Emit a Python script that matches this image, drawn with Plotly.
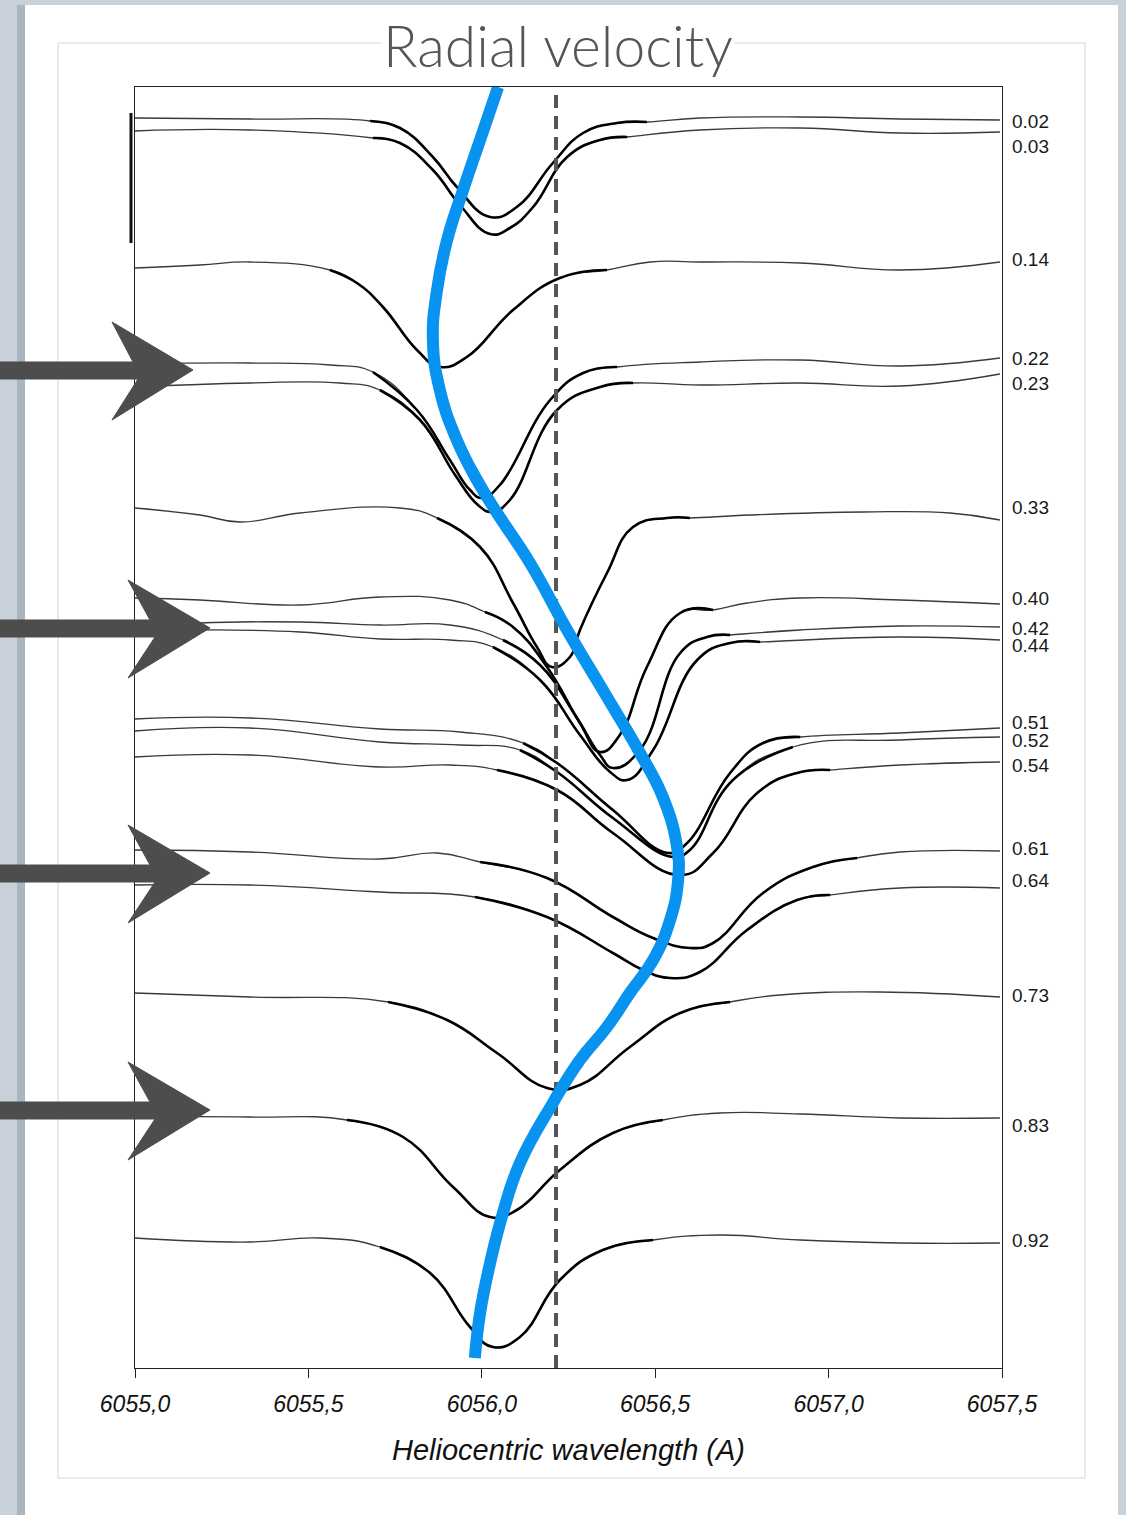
import plotly.graph_objects as go

# ---------------------------------------------------------------------------
# Fe I 6056 line profiles at successive pulsation phases (offset for clarity)
# wavelengths in Angstrom, levels are normalised flux plus a vertical offset
# ---------------------------------------------------------------------------
phases = ["0.02", "0.03", "0.14", "0.22", "0.23", "0.33", "0.40", "0.42", "0.44",
          "0.51", "0.52", "0.54", "0.61", "0.64", "0.73", "0.83", "0.92"]

wl_002 = [6055.000, 6055.332, 6055.678, 6055.764, 6055.859, 6055.928, 6056.024, 6056.101,
          6056.205, 6056.292, 6056.390, 6056.476, 6056.629, 6056.918, 6057.206, 6057.494]
fx_002 = [12.50, 12.49, 12.47, 12.40, 12.11, 11.81, 11.51, 11.61,
          12.05, 12.35, 12.45, 12.46, 12.50, 12.51, 12.49, 12.48]

wl_003 = [6055.000, 6055.332, 6055.686, 6055.764, 6055.859, 6055.937, 6056.024, 6056.081,
          6056.148, 6056.246, 6056.341, 6056.419, 6056.629, 6056.918, 6057.206, 6057.494]
fx_003 = [12.37, 12.38, 12.30, 12.25, 11.98, 11.63, 11.34, 11.40,
          11.61, 12.11, 12.28, 12.31, 12.38, 12.40, 12.35, 12.36]

wl_014 = [6055.000, 6055.187, 6055.332, 6055.562, 6055.640, 6055.715, 6055.813, 6055.879,
          6055.957, 6056.090, 6056.225, 6056.361, 6056.485, 6056.629, 6056.918, 6057.206, 6057.494]
fx_014 = [11.00, 11.03, 11.06, 10.98, 10.85, 10.61, 10.18, 10.01,
          10.11, 10.58, 10.90, 10.98, 11.06, 11.06, 11.05, 10.98, 11.06]

wl_022 = [6055.000, 6055.332, 6055.562, 6055.686, 6055.813, 6055.908, 6055.966, 6056.001,
          6056.052, 6056.197, 6056.292, 6056.390, 6056.629, 6056.918, 6057.206, 6057.494]
fx_022 = [10.04, 10.05, 10.03, 9.96, 9.58, 9.08, 8.78, 8.70,
          8.83, 9.68, 9.95, 10.01, 10.06, 10.08, 10.02, 10.10]

wl_023 = [6055.000, 6055.332, 6055.591, 6055.706, 6055.822, 6055.923, 6055.989, 6056.029,
          6056.081, 6056.217, 6056.341, 6056.436, 6056.629, 6056.918, 6057.206, 6057.494]
fx_023 = [9.81, 9.85, 9.85, 9.78, 9.48, 8.93, 8.63, 8.56,
          8.68, 9.58, 9.81, 9.85, 9.83, 9.85, 9.82, 9.94]

wl_033 = [6055.000, 6055.187, 6055.303, 6055.476, 6055.764, 6055.871, 6055.995, 6056.090,
          6056.159, 6056.202, 6056.254, 6056.283, 6056.361, 6056.436, 6056.534, 6056.600,
          6056.773, 6057.099, 6057.350, 6057.494]
fx_033 = [8.60, 8.53, 8.46, 8.55, 8.60, 8.50, 8.21, 7.65,
          7.21, 7.01, 7.11, 7.38, 7.95, 8.41, 8.50, 8.50,
          8.53, 8.56, 8.55, 8.48]

wl_040 = [6055.000, 6055.187, 6055.476, 6055.706, 6055.908, 6056.009, 6056.090, 6056.188,
          6056.283, 6056.341, 6056.398, 6056.476, 6056.572, 6056.667, 6056.765, 6056.918,
          6057.206, 6057.494]
fx_040 = [7.70, 7.68, 7.63, 7.71, 7.68, 7.56, 7.41, 7.01,
          6.45, 6.16, 6.33, 7.01, 7.55, 7.58, 7.65, 7.70,
          7.68, 7.64]

wl_042 = [6055.000, 6055.187, 6055.476, 6055.706, 6055.908, 6056.061, 6056.168, 6056.269,
          6056.341, 6056.378, 6056.456, 6056.572, 6056.649, 6056.716, 6056.918, 6057.206, 6057.494]
fx_042 = [7.40, 7.45, 7.46, 7.43, 7.43, 7.28, 7.03, 6.53,
          6.13, 6.00, 6.18, 7.15, 7.31, 7.33, 7.38, 7.42, 7.41]

wl_044 = [6055.000, 6055.187, 6055.476, 6055.706, 6055.908, 6056.032, 6056.168, 6056.283,
          6056.370, 6056.419, 6056.494, 6056.621, 6056.716, 6056.802, 6057.206, 6057.494]
fx_044 = [7.36, 7.38, 7.36, 7.29, 7.28, 7.21, 6.88, 6.33,
          5.96, 5.88, 6.18, 7.08, 7.25, 7.26, 7.31, 7.28]

wl_051 = [6055.000, 6055.332, 6055.706, 6055.937, 6056.119, 6056.217, 6056.378, 6056.537,
          6056.592, 6056.716, 6056.811, 6056.918, 6057.206, 6057.494]
fx_051 = [6.49, 6.50, 6.39, 6.36, 6.25, 6.05, 5.58, 5.15,
          5.25, 5.95, 6.25, 6.31, 6.35, 6.40]

wl_052 = [6055.000, 6055.332, 6055.706, 6055.937, 6056.110, 6056.217, 6056.378, 6056.551,
          6056.600, 6056.724, 6056.897, 6057.206, 6057.494]
fx_052 = [6.37, 6.40, 6.26, 6.23, 6.18, 5.96, 5.50, 5.11,
          5.18, 5.88, 6.21, 6.28, 6.31]

wl_054 = [6055.000, 6055.332, 6055.706, 6055.908, 6056.044, 6056.217, 6056.378, 6056.572,
          6056.667, 6056.794, 6056.909, 6057.004, 6057.206, 6057.494]
fx_054 = [6.11, 6.13, 6.01, 6.03, 5.98, 5.78, 5.35, 4.93,
          5.15, 5.75, 5.95, 5.98, 6.03, 6.06]

wl_061 = [6055.000, 6055.332, 6055.706, 6055.871, 6055.995, 6056.188, 6056.378, 6056.494,
          6056.600, 6056.667, 6056.811, 6056.955, 6057.082, 6057.206, 6057.494]
fx_061 = [5.18, 5.16, 5.09, 5.15, 5.06, 4.90, 4.51, 4.30,
          4.20, 4.25, 4.75, 5.01, 5.10, 5.16, 5.17]

wl_064 = [6055.000, 6055.332, 6055.706, 6055.980, 6056.188, 6056.378, 6056.465, 6056.543,
          6056.629, 6056.765, 6056.909, 6057.004, 6057.206, 6057.494]
fx_064 = [4.83, 4.83, 4.76, 4.71, 4.51, 4.15, 3.98, 3.90,
          3.96, 4.38, 4.68, 4.73, 4.80, 4.80]

wl_073 = [6055.000, 6055.332, 6055.730, 6055.900, 6056.044, 6056.188, 6056.283, 6056.427,
          6056.572, 6056.716, 6056.860, 6057.148, 6057.494]
fx_073 = [3.75, 3.71, 3.66, 3.48, 3.15, 2.80, 2.83, 3.21,
          3.55, 3.66, 3.73, 3.76, 3.71]

wl_083 = [6055.000, 6055.332, 6055.611, 6055.773, 6055.917, 6056.024, 6056.101, 6056.225,
          6056.378, 6056.522, 6056.687, 6056.918, 6057.206, 6057.494]
fx_083 = [2.51, 2.51, 2.48, 2.31, 1.81, 1.51, 1.58, 1.98,
          2.35, 2.48, 2.55, 2.54, 2.50, 2.50]

wl_092 = [6055.000, 6055.332, 6055.533, 6055.706, 6055.851, 6055.966, 6056.032, 6056.110,
          6056.225, 6056.349, 6056.494, 6056.687, 6056.918, 6057.206, 6057.494]
fx_092 = [1.30, 1.26, 1.30, 1.21, 0.95, 0.41, 0.21, 0.31,
          0.88, 1.18, 1.28, 1.33, 1.28, 1.25, 1.25]

# wavelength window covered by the profile fit of each spectrum
fit_lo = [6055.678, 6055.686, 6055.562, 6055.686, 6055.706, 6055.871, 6056.009, 6056.061,
          6056.032, 6056.119, 6056.110, 6056.044, 6055.995, 6055.980, 6055.730, 6055.611, 6055.706]
fit_hi = [6056.476, 6056.419, 6056.361, 6056.390, 6056.436, 6056.600, 6056.667, 6056.716,
          6056.802, 6056.918, 6056.897, 6057.004, 6057.082, 6057.004, 6056.716, 6056.522, 6056.494]

# level at which each phase label is written
label_level = [12.47, 12.22, 11.09, 10.10, 9.85, 8.61, 7.70, 7.40, 7.23,
               6.46, 6.28, 6.03, 5.20, 4.88, 3.73, 2.43, 1.28]

# track of the line core through the cycle (radial velocity)
rv_wave = [6056.047, 6055.995, 6055.946, 6055.900, 6055.871, 6055.859, 6055.879, 6055.928,
           6055.986, 6056.044, 6056.139, 6056.246, 6056.361, 6056.456, 6056.522, 6056.563,
           6056.566, 6056.543, 6056.494, 6056.427, 6056.361, 6056.283, 6056.205, 6056.110,
           6056.061, 6056.024, 6055.995, 6055.980]
rv_level = [12.81, 12.28, 11.78, 11.28, 10.78, 10.28, 9.78, 9.28,
            8.88, 8.55, 8.05, 7.38, 6.71, 6.15, 5.71, 5.21,
            4.88, 4.48, 4.08, 3.75, 3.41, 3.08, 2.65, 2.05,
            1.55, 1.05, 0.55, 0.10]

rest_wavelength = 6056.214
rest_top = 12.73
scale_bar = [12.55, 11.25]

x_ticks = [6055.0, 6055.5, 6056.0, 6056.5, 6057.0, 6057.5]
x_tick_text = ["6055,0", "6055,5", "6056,0", "6056,5", "6057,0", "6057,5"]

spectra_wl = [wl_002, wl_003, wl_014, wl_022, wl_023, wl_033, wl_040, wl_042, wl_044,
              wl_051, wl_052, wl_054, wl_061, wl_064, wl_073, wl_083, wl_092]
spectra_fx = [fx_002, fx_003, fx_014, fx_022, fx_023, fx_033, fx_040, fx_042, fx_044,
              fx_051, fx_052, fx_054, fx_061, fx_064, fx_073, fx_083, fx_092]

# ---------------------------------------------------------------------------
# page geometry
# ---------------------------------------------------------------------------
W, H = 1126, 1515
ML, MR, MT, MB = 135, 124, 87, 147
PW, PH = W - ML - MR, H - MT - MB


def page_x(px):
    return (px - ML) / PW


def page_y(py):
    return (H - MB - py) / PH


fig = go.Figure()

# observed spectra (thin) and fitted profiles (thick)
for wl, fx, lo, hi in zip(spectra_wl, spectra_fx, fit_lo, fit_hi):
    fig.add_trace(go.Scatter(
        x=wl, y=fx, mode="lines",
        line=dict(color="#3a3a3a", width=1.3, shape="spline", smoothing=1.3),
        hoverinfo="skip", showlegend=False))
    fw = [w for w in wl if lo - 1e-6 <= w <= hi + 1e-6]
    ff = [f for w, f in zip(wl, fx) if lo - 1e-6 <= w <= hi + 1e-6]
    fig.add_trace(go.Scatter(
        x=fw, y=ff, mode="lines",
        line=dict(color="#000000", width=2.6, shape="spline", smoothing=1.3),
        hoverinfo="skip", showlegend=False))

# laboratory wavelength
fig.add_trace(go.Scatter(
    x=[rest_wavelength, rest_wavelength], y=[0, rest_top], mode="lines",
    line=dict(color="#555555", width=4, dash="13px,8px"),
    hoverinfo="skip", showlegend=False))

# radial velocity curve
fig.add_trace(go.Scatter(
    x=rv_wave, y=rv_level, mode="lines",
    line=dict(color="#0893f0", width=12, shape="spline", smoothing=1.3),
    hoverinfo="skip", showlegend=False))

shapes = []
# slide background panel
shapes.append(dict(type="rect", xref="paper", yref="paper", layer="below",
                   x0=page_x(17), x1=page_x(25), y0=page_y(H + 5), y1=page_y(5),
                   fillcolor="#aab5c2", line=dict(width=0)))
shapes.append(dict(type="rect", xref="paper", yref="paper", layer="below",
                   x0=page_x(25), x1=page_x(1118), y0=page_y(H + 5), y1=page_y(5),
                   fillcolor="#ffffff", line=dict(width=0)))
shapes.append(dict(type="rect", xref="paper", yref="paper", layer="below",
                   x0=page_x(58), x1=page_x(1085), y0=page_y(1478), y1=page_y(43),
                   fillcolor="rgba(0,0,0,0)", line=dict(color="#e4e4e4", width=1.5)))

# flux scale bar
shapes.append(dict(type="line", xref="paper", yref="y",
                   x0=page_x(131), x1=page_x(131), y0=scale_bar[0], y1=scale_bar[1],
                   line=dict(color="#111111", width=3)))

# arrows pointing at the selected spectra
for tip, cy, back, half in [(193, 370, 81, 48), (210, 628, 82, 48),
                            (210, 873, 82, 48), (210, 1110, 82, 48)]:
    pts = [(0, cy - 8), (tip - 60, cy - 8), (tip - back, cy - half), (tip, cy),
           (tip - back, cy + half + 2), (tip - 55, cy + 9), (0, cy + 9)]
    path = "M " + " L ".join(f"{page_x(a):.5f},{page_y(b):.5f}" for a, b in pts) + " Z"
    shapes.append(dict(type="path", xref="paper", yref="paper", path=path,
                       fillcolor="#4d4d4d", line=dict(color="#4d4d4d", width=1)))

annotations = []
for name, lev in zip(phases, label_level):
    annotations.append(dict(
        text=name, x=page_x(1010), xref="paper", y=lev, yref="y",
        xanchor="left", yanchor="middle", showarrow=False,
        font=dict(family="Liberation Sans, Arial, sans-serif", size=19, color="#1a1a1a")))

annotations.append(dict(
    text="Radial velocity", x=page_x(558), y=page_y(45), xref="paper", yref="paper",
    xanchor="center", yanchor="middle", showarrow=False, bgcolor="#ffffff",
    font=dict(family="Lato, Open Sans, sans-serif", size=57, color="#555555", weight=300)))

annotations.append(dict(
    text="Heliocentric wavelength (A)", x=page_x(568), y=page_y(1450),
    xref="paper", yref="paper", xanchor="center", yanchor="middle", showarrow=False,
    font=dict(family="Liberation Sans, Arial, sans-serif", size=29, color="#111111",
              style="italic")))

fig.update_layout(
    width=W, height=H, autosize=False,
    margin=dict(l=ML, r=MR, t=MT, b=MB),
    paper_bgcolor="#c8d0da", plot_bgcolor="#ffffff",
    shapes=shapes, annotations=annotations,
    xaxis=dict(range=[6055.0, 6057.5], tickvals=x_ticks, ticktext=x_tick_text,
               showgrid=False, zeroline=False, showline=True, mirror=True,
               linecolor="#222222", linewidth=1, ticks="outside", ticklen=9,
               tickcolor="#222222", tickwidth=1, ticklabelstandoff=6,
               tickfont=dict(family="Liberation Sans, Arial, sans-serif", size=23,
                             color="#111111", style="italic")),
    yaxis=dict(range=[0, PH / 100], showgrid=False, zeroline=False, showline=True,
               mirror=True, linecolor="#222222", linewidth=1, showticklabels=False,
               ticks=""),
)

fig.write_html("out.html")
